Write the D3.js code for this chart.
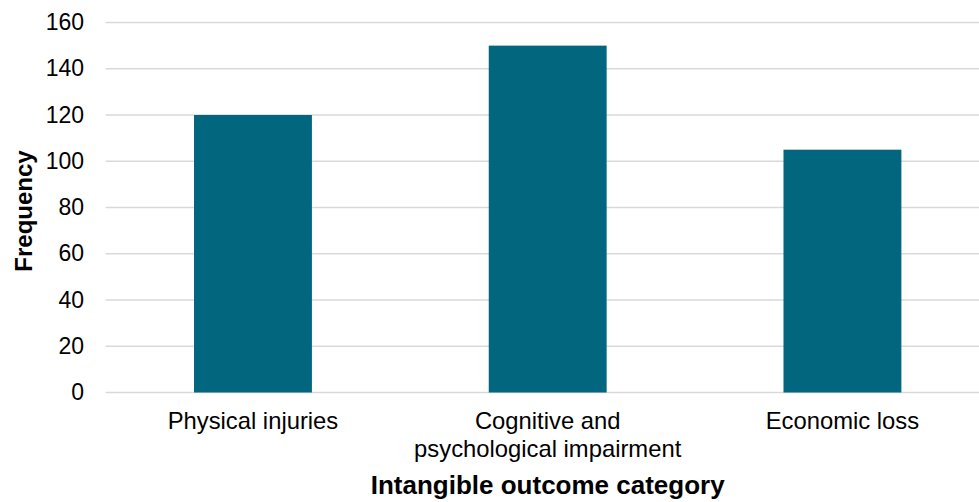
<!DOCTYPE html>
<html>
<head>
<meta charset="utf-8">
<script src="https://cdn.jsdelivr.net/npm/d3@7"></script>
<style>
  html, body { margin: 0; padding: 0; background: #ffffff; }
  svg { display: block; font-family: "Liberation Sans", Arial, sans-serif; }
</style>
</head>
<body>
<svg id="chart" width="979" height="502"></svg>
<script>
// Outcome categories (each label may wrap over two lines)
const categories = [
  ["Physical injuries"],
  ["Cognitive and", "psychological impairment"],
  ["Economic loss"]
];
const frequencies = [120, 150, 105];
const yTicks = [0, 20, 40, 60, 80, 100, 120, 140, 160];
const xTitle = "Intangible outcome category";
const yTitle = "Frequency";

const svg = d3.select("#chart");
const keys = categories.map(c => c.join(" "));

const x = d3.scaleBand()
  .domain(keys)
  .range([105.6, 989.8])
  .paddingInner(0.6)
  .paddingOuter(0.3);

const y = d3.scaleLinear()
  .domain([0, 160])
  .range([392.5, 22.5]);

// Horizontal gridlines
svg.append("g")
  .selectAll("line")
  .data(yTicks)
  .join("line")
  .attr("x1", x.range()[0])
  .attr("x2", x.range()[1])
  .attr("y1", d => y(d))
  .attr("y2", d => y(d))
  .attr("stroke", "#d9d9d9")
  .attr("stroke-width", 1.3);

// Y tick labels
svg.append("g")
  .selectAll("text")
  .data(yTicks)
  .join("text")
  .attr("x", 84)
  .attr("y", d => y(d) + 7.5)
  .attr("text-anchor", "end")
  .attr("font-size", 23)
  .attr("fill", "#000")
  .text(d => d);

// Bars
svg.append("g")
  .selectAll("rect")
  .data(frequencies)
  .join("rect")
  .attr("x", (d, i) => x(keys[i]))
  .attr("width", x.bandwidth())
  .attr("y", d => y(d))
  .attr("height", d => y(0) - y(d))
  .attr("fill", "#02667e");

// Category labels
const catG = svg.append("g")
  .selectAll("text")
  .data(categories)
  .join("text")
  .attr("x", (d, i) => x(keys[i]) + x.bandwidth() / 2)
  .attr("y", 429)
  .attr("text-anchor", "middle")
  .attr("font-size", 23.8)
  .attr("fill", "#000");
catG.selectAll("tspan")
  .data(d => d)
  .join("tspan")
  .attr("x", function () { return d3.select(this.parentNode).attr("x"); })
  .attr("dy", (d, i) => i === 0 ? 0 : 28)
  .text(d => d);

// Axis titles
svg.append("text")
  .attr("x", x(keys[1]) + x.bandwidth() / 2)
  .attr("y", 494)
  .attr("text-anchor", "middle")
  .attr("font-size", 26)
  .attr("font-weight", "bold")
  .attr("fill", "#000")
  .text(xTitle);

svg.append("text")
  .attr("transform", "translate(32,211) rotate(-90)")
  .attr("text-anchor", "middle")
  .attr("font-size", 24)
  .attr("font-weight", "bold")
  .attr("fill", "#000")
  .text(yTitle);
</script>
</body>
</html>
